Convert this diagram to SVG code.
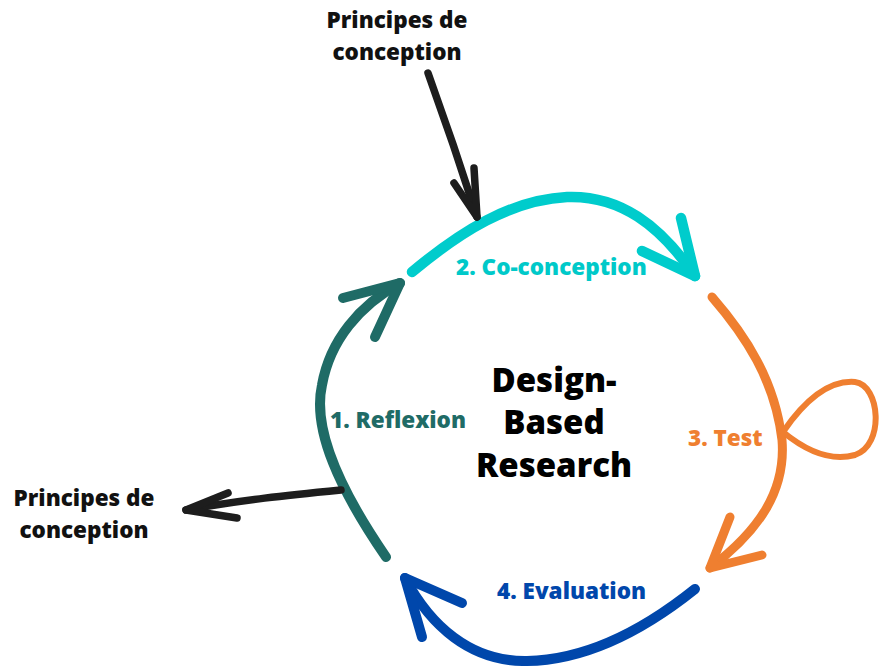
<svg xmlns="http://www.w3.org/2000/svg" width="879" height="666" viewBox="0 0 879 666">
<style>
text{font-family:"Open Sans","Liberation Sans",sans-serif;font-weight:800}
.lbl{font-size:22.5px}
.ctr{font-size:33px;fill:#000;text-anchor:middle}
.ink{fill:none;stroke-linecap:round;stroke-linejoin:round}
</style>
<rect width="879" height="666" fill="#fff"/>
<g id="center">
<text class="ctr" x="554" y="392">Design-</text>
<text class="ctr" x="554" y="434">Based</text>
<text class="ctr" x="554" y="477">Research</text>
</g>
<g id="top-input">
<text class="lbl" x="397" y="28" text-anchor="middle" fill="#111">Principes de</text>
<text class="lbl" x="397" y="60" text-anchor="middle" fill="#111">conception</text>
</g>
<g id="left-output">
<text class="lbl" x="84" y="506" text-anchor="middle" fill="#111">Principes de</text>
<text class="lbl" x="84" y="538" text-anchor="middle" fill="#111">conception</text>
</g>
<g id="step1">
<text class="lbl" x="330" y="428" fill="#1f6b66">1. Reflexion</text>
</g>
<g id="step2">
<text class="lbl" x="456" y="275" fill="#00c9c9">2. Co-conception</text>
</g>
<g id="step3">
<text class="lbl" x="688" y="446" fill="#ef7f30">3. Test</text>
</g>
<g id="step4">
<text class="lbl" x="497" y="599" fill="#0047ab">4. Evaluation</text>
</g>
<g id="connectors">
<path class="ink" stroke="#1f6b66" stroke-width="10" d="M386 557 C340 490 312 430 322 385 C330 340 360 305 400 283"/>
<path class="ink" stroke="#1f6b66" stroke-width="10" d="M343 298 L400 283 L375 337"/>
<path class="ink" stroke="#00cccc" stroke-width="10.5" d="M412 272 C460 232 510 200 567 197 C620 195 660 225 695 276"/>
<path class="ink" stroke="#00cccc" stroke-width="10.5" d="M642 251 L695 276 L681 218"/>
<path class="ink" stroke="#ef7f30" stroke-width="9" d="M712 297 C745 335 775 380 782 440 C786 490 760 530 710 568"/>
<path class="ink" stroke="#ef7f30" stroke-width="9" d="M730 517 L710 568 L762 555"/>
<path class="ink" stroke="#ef7f30" stroke-width="6" d="M783 432 C805 400 830 380 855 382 C880 385 885 445 855 455 C830 462 805 450 783 432"/>
<path class="ink" stroke="#0047ab" stroke-width="10" d="M695 589 C650 625 590 660 527 661 C470 662 430 625 405 578"/>
<path class="ink" stroke="#0047ab" stroke-width="10" d="M462 603 L405 578 L422 637"/>
<path class="ink" stroke="#1d1d1d" stroke-width="7.5" d="M428 73 C445 120 462 170 477 217"/>
<path class="ink" stroke="#1d1d1d" stroke-width="7.5" d="M454 183 L477 217 L474 168"/>
<path class="ink" stroke="#1d1d1d" stroke-width="7.5" d="M341 490 C290 495 240 500 186 510"/>
<path class="ink" stroke="#1d1d1d" stroke-width="7.5" d="M228 493 L186 510 L237 518"/>
</g>
</svg>
